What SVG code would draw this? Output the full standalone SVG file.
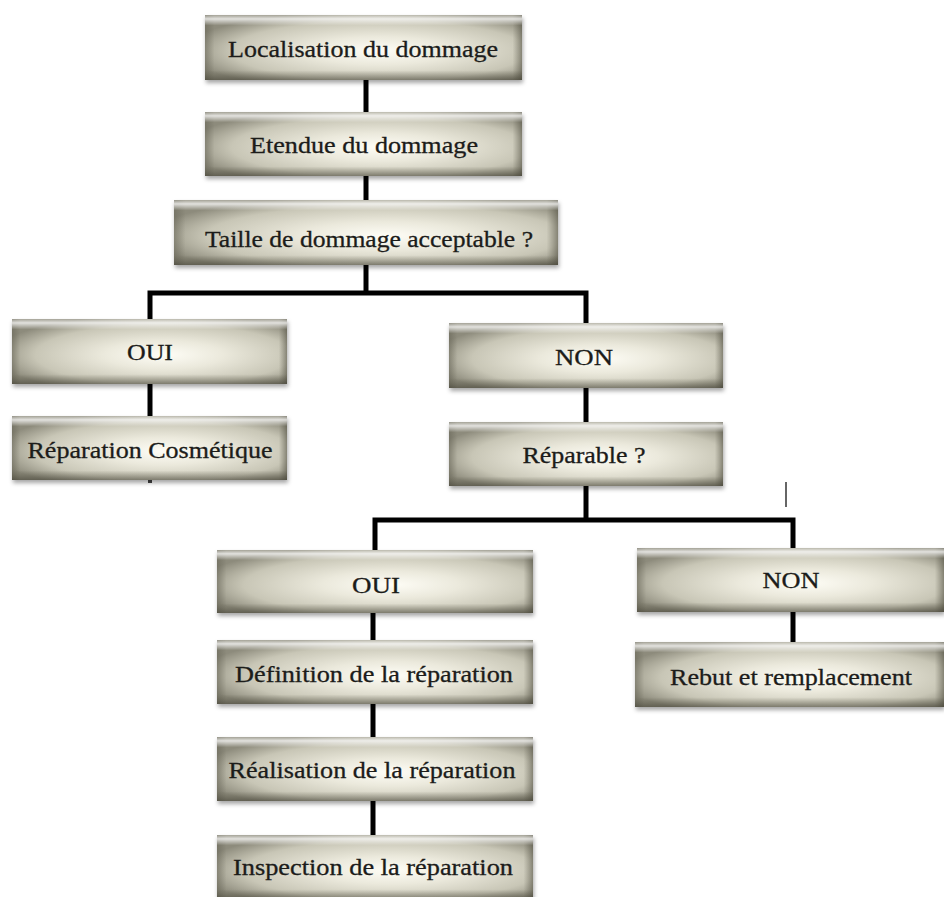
<svg xmlns="http://www.w3.org/2000/svg" width="944" height="897" viewBox="0 0 944 897">
<defs>
<radialGradient id="body" cx="0.55" cy="0.55" r="0.62">
<stop offset="0" stop-color="#fefdf6"/>
<stop offset="0.35" stop-color="#ebe9dc"/>
<stop offset="0.75" stop-color="#c8c6b6"/>
<stop offset="1" stop-color="#8d8b7c"/>
</radialGradient>
<linearGradient id="bevel" x1="0" y1="0" x2="0" y2="1">
<stop offset="0" stop-color="#ffffff" stop-opacity="0.2"/>
<stop offset="0.06" stop-color="#ffffff" stop-opacity="0.75"/>
<stop offset="0.16" stop-color="#ffffff" stop-opacity="0"/>
<stop offset="0.85" stop-color="#4a4838" stop-opacity="0"/>
<stop offset="1" stop-color="#3e3c30" stop-opacity="0.55"/>
</linearGradient>
<linearGradient id="sides" x1="0" y1="0" x2="1" y2="0">
<stop offset="0" stop-color="#5c5a4c" stop-opacity="0.45"/>
<stop offset="0.03" stop-color="#5c5a4c" stop-opacity="0"/>
<stop offset="0.97" stop-color="#5c5a4c" stop-opacity="0"/>
<stop offset="1" stop-color="#4c4a3c" stop-opacity="0.55"/>
</linearGradient>
<filter id="shadow" x="-5%" y="-10%" width="112%" height="135%">
<feDropShadow dx="1" dy="3" stdDeviation="2" flood-color="#000" flood-opacity="0.35"/>
</filter>
</defs>
<style>
.box { fill: url(#body); filter: url(#shadow); }
.bev { fill: url(#bevel); }
.sd { fill: url(#sides); }
.lbl { font-family: "Liberation Serif", "Times New Roman", serif; font-size: 23px; fill: #1c1c1a; stroke: #1c1c1a; stroke-width: 0.3; text-anchor: middle; }
.con { stroke: #000; stroke-width: 5; fill: none; stroke-linecap: butt; stroke-linejoin: miter; }
</style>
<rect width="944" height="897" fill="#ffffff"/>

<g id="connectors">
<line class="con" x1="366" y1="80" x2="366" y2="112"/>
<line class="con" x1="366" y1="176" x2="366" y2="200"/>
<polyline class="con" points="366,265 366,293"/>
<polyline class="con" points="150,320 150,293 586,293 586,323"/>
<line class="con" x1="150" y1="384" x2="150" y2="416"/>
<line class="con" x1="586" y1="388" x2="586" y2="422"/>
<line class="con" x1="586" y1="486" x2="586" y2="520"/>
<polyline class="con" points="375,550 375,520 793,520 793,548"/>
<line class="con" x1="793" y1="612" x2="793" y2="642"/>
<line class="con" x1="373" y1="613" x2="373" y2="640"/>
<line class="con" x1="373" y1="704" x2="373" y2="737"/>
<line class="con" x1="373" y1="801" x2="373" y2="835"/>
<line x1="786" y1="482" x2="786" y2="507" stroke="#333" stroke-width="1.5"/>
<rect x="148" y="480" width="4" height="3" fill="#444"/>
</g>

<g id="n-localisation">
<rect class="box" x="205" y="15" width="317" height="65"/>
<rect class="sd" x="205" y="15" width="317" height="65"/>
<rect class="bev" x="205" y="15" width="317" height="65"/>
<text class="lbl" x="363" y="57" textLength="270" lengthAdjust="spacingAndGlyphs">Localisation du dommage</text>
</g>

<g id="n-etendue">
<rect class="box" x="205" y="112" width="317" height="64"/>
<rect class="sd" x="205" y="112" width="317" height="64"/>
<rect class="bev" x="205" y="112" width="317" height="64"/>
<text class="lbl" x="364" y="153" textLength="228" lengthAdjust="spacingAndGlyphs">Etendue du dommage</text>
</g>

<g id="n-taille">
<rect class="box" x="174" y="200" width="384" height="65"/>
<rect class="sd" x="174" y="200" width="384" height="65"/>
<rect class="bev" x="174" y="200" width="384" height="65"/>
<text class="lbl" x="369" y="247" textLength="328" lengthAdjust="spacingAndGlyphs">Taille de dommage acceptable ?</text>
</g>

<g id="n-oui1">
<rect class="box" x="12" y="319" width="275" height="65"/>
<rect class="sd" x="12" y="319" width="275" height="65"/>
<rect class="bev" x="12" y="319" width="275" height="65"/>
<text class="lbl" x="150" y="360" textLength="46" lengthAdjust="spacingAndGlyphs">OUI</text>
</g>

<g id="n-cosmetique">
<rect class="box" x="12" y="416" width="275" height="64"/>
<rect class="sd" x="12" y="416" width="275" height="64"/>
<rect class="bev" x="12" y="416" width="275" height="64"/>
<text class="lbl" x="150" y="458" textLength="245" lengthAdjust="spacingAndGlyphs">Réparation Cosmétique</text>
</g>

<g id="n-non1">
<rect class="box" x="449" y="323" width="274" height="65"/>
<rect class="sd" x="449" y="323" width="274" height="65"/>
<rect class="bev" x="449" y="323" width="274" height="65"/>
<text class="lbl" x="584" y="365" textLength="58" lengthAdjust="spacingAndGlyphs">NON</text>
</g>

<g id="n-reparable">
<rect class="box" x="449" y="422" width="274" height="64"/>
<rect class="sd" x="449" y="422" width="274" height="64"/>
<rect class="bev" x="449" y="422" width="274" height="64"/>
<text class="lbl" x="584" y="463" textLength="123" lengthAdjust="spacingAndGlyphs">Réparable ?</text>
</g>

<g id="n-oui2">
<rect class="box" x="217" y="550" width="316" height="63"/>
<rect class="sd" x="217" y="550" width="316" height="63"/>
<rect class="bev" x="217" y="550" width="316" height="63"/>
<text class="lbl" x="376" y="593" textLength="48" lengthAdjust="spacingAndGlyphs">OUI</text>
</g>

<g id="n-non2">
<rect class="box" x="637" y="548" width="307" height="64"/>
<rect class="sd" x="637" y="548" width="307" height="64"/>
<rect class="bev" x="637" y="548" width="307" height="64"/>
<text class="lbl" x="791" y="588" textLength="57" lengthAdjust="spacingAndGlyphs">NON</text>
</g>

<g id="n-rebut">
<rect class="box" x="635" y="642" width="309" height="65"/>
<rect class="sd" x="635" y="642" width="309" height="65"/>
<rect class="bev" x="635" y="642" width="309" height="65"/>
<text class="lbl" x="791" y="685" textLength="242" lengthAdjust="spacingAndGlyphs">Rebut et remplacement</text>
</g>

<g id="n-definition">
<rect class="box" x="217" y="640" width="316" height="64"/>
<rect class="sd" x="217" y="640" width="316" height="64"/>
<rect class="bev" x="217" y="640" width="316" height="64"/>
<text class="lbl" x="374" y="682" textLength="278" lengthAdjust="spacingAndGlyphs">Définition de la réparation</text>
</g>

<g id="n-realisation">
<rect class="box" x="217" y="737" width="316" height="64"/>
<rect class="sd" x="217" y="737" width="316" height="64"/>
<rect class="bev" x="217" y="737" width="316" height="64"/>
<text class="lbl" x="372" y="778" textLength="287" lengthAdjust="spacingAndGlyphs">Réalisation de la réparation</text>
</g>

<g id="n-inspection">
<rect class="box" x="217" y="835" width="316" height="64"/>
<rect class="sd" x="217" y="835" width="316" height="64"/>
<rect class="bev" x="217" y="835" width="316" height="64"/>
<text class="lbl" x="373" y="875" textLength="280" lengthAdjust="spacingAndGlyphs">Inspection de la réparation</text>
</g>
</svg>
